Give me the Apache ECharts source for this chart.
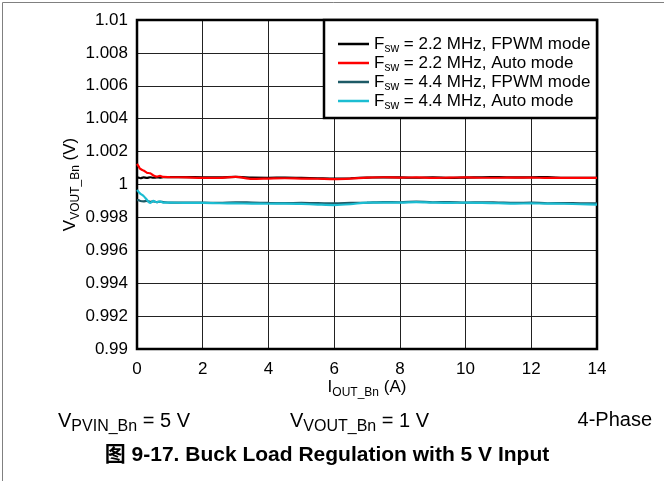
<!DOCTYPE html>
<html>
<head>
<meta charset="utf-8">
<script src="https://cdn.jsdelivr.net/npm/echarts@6/dist/echarts.min.js"></script>
<style>
html,body{margin:0;padding:0;background:#fff;}
#chart{width:664px;height:481px;}
</style>
</head>
<body>
<div id="chart"></div>
<script>
var currentA = [0,0.05,0.1,0.2,0.3,0.4,0.5,0.6,0.7,0.8,1,1.5,2,2.5,3,3.5,4,4.5,5,5.5,6,6.5,7,7.5,8,8.5,9,9.5,10,10.5,11,11.5,12,12.5,13,13.5,14];
var fsw22Fpwm = [1.00040,1.00042,1.00038,1.00043,1.00040,1.00044,1.00041,1.00043,1.00042,1.00044,1.00045,1.00045,1.00044,1.00043,1.00046,1.00042,1.00041,1.00042,1.00040,1.00038,1.00036,1.00038,1.00042,1.00044,1.00043,1.00041,1.00044,1.00040,1.00042,1.00044,1.00045,1.00043,1.00044,1.00045,1.00040,1.00040,1.00040];
var fsw22Auto = [1.00125,1.00110,1.00095,1.00085,1.00072,1.00068,1.00055,1.00048,1.00052,1.00046,1.00045,1.00043,1.00040,1.00040,1.00046,1.00034,1.00036,1.00038,1.00036,1.00035,1.00033,1.00036,1.00042,1.00044,1.00042,1.00043,1.00040,1.00042,1.00043,1.00041,1.00041,1.00042,1.00042,1.00040,1.00040,1.00040,1.00040];
var fsw44Fpwm = [0.99905,0.99905,0.99900,0.99898,0.99900,0.99895,0.99897,0.99893,0.99895,0.99893,0.99890,0.99890,0.99890,0.99888,0.99892,0.99890,0.99888,0.99887,0.99888,0.99887,0.99885,0.99888,0.99890,0.99893,0.99892,0.99896,0.99892,0.99893,0.99890,0.99892,0.99890,0.99888,0.99890,0.99886,0.99887,0.99886,0.99886];
var fsw44Auto = [0.99966,0.99955,0.99945,0.99930,0.99908,0.99888,0.99900,0.99892,0.99898,0.99890,0.99890,0.99888,0.99888,0.99886,0.99885,0.99884,0.99883,0.99884,0.99882,0.99878,0.99875,0.99880,0.99890,0.99890,0.99890,0.99893,0.99890,0.99888,0.99890,0.99888,0.99886,0.99884,0.99885,0.99884,0.99883,0.99880,0.99878];
var seriesNames = ['2.2 MHz, FPWM mode','2.2 MHz, Auto mode','4.4 MHz, FPWM mode','4.4 MHz, Auto mode'];
var seriesColors = ['#000000','#ff0000','#1d5a66','#1cbdd2'];
var yTickLabels = ['0.99','0.992','0.994','0.996','0.998','1','1.002','1.004','1.006','1.008','1.01'];
var xTickLabels = ['0','2','4','6','8','10','12','14'];

function pairs(ys){ return currentA.map(function(x,i){ return [x, ys[i]]; }); }
var allY = [fsw22Fpwm, fsw22Auto, fsw44Fpwm, fsw44Auto];
var FONT = 'Liberation Sans, Arial, sans-serif';
function subRich(main, sub, lh, pad, fillKey){
  var n = {fontSize:main,fontFamily:FONT,lineHeight:lh};
  var s = {fontSize:sub,fontFamily:FONT,lineHeight:lh,padding:[pad,0,0,0]};
  n[fillKey]='#000'; s[fillKey]='#000';
  return {n:n,s:s};
}

var chart = echarts.init(document.getElementById('chart'), null, {renderer:'canvas'});
var option = {
  animation:false,
  backgroundColor:'#fff',
  grid:{left:137,right:67,top:20,bottom:132,show:true,borderColor:'#000',borderWidth:2.5,z:3},
  xAxis:{
    type:'value',min:0,max:14,interval:2,
    axisLine:{show:false},axisTick:{show:false},
    splitLine:{show:true,lineStyle:{color:'#222',width:1}},
    axisLabel:{margin:12,color:'#000',fontSize:17,fontFamily:FONT,
      formatter:function(v){ return xTickLabels[Math.round(v/2)]; }},
    name:'{n|I}{s|OUT_Bn}{n| (A)}',nameLocation:'middle',nameGap:29,nameMoveOverlap:false,
    nameTextStyle:{color:'#000',fontFamily:FONT,rich:subRich(17,12,19,10,'color')}
  },
  yAxis:{
    type:'value',min:0.99,max:1.01,interval:0.002,
    axisLine:{show:false},axisTick:{show:false},
    splitLine:{show:true,lineStyle:{color:'#222',width:1}},
    axisLabel:{margin:9,color:'#000',fontSize:17,fontFamily:FONT,
      formatter:function(v){ return yTickLabels[Math.round((v-0.99)/0.002)]; }},
    name:'{n|V}{s|VOUT_Bn}{n| (V)}',nameLocation:'middle',nameGap:57,nameMoveOverlap:false,
    nameTextStyle:{color:'#000',fontFamily:FONT,rich:subRich(17,12,19,10,'color')}
  },
  legend:{
    left:333,top:28,orient:'vertical',itemGap:-3,itemWidth:31,itemHeight:2.5,icon:'rect',
    z:10,
    data:seriesNames,
    formatter:function(name){ return '{n|F}{s|sw}{n| = '+name+'}'; },
    textStyle:{color:'#000',fontFamily:FONT,fontSize:17,rich:subRich(17,12,18.7,10,'color')}
  },
  graphic:[
    {type:'rect',left:0,top:0,shape:{x:0.5,y:0.5,width:700,height:600},style:{fill:'none',stroke:'#808080',lineWidth:1},z:0,silent:true},
    {type:'rect',shape:{x:324,y:20,width:273,height:98},style:{fill:'#fff',stroke:'#000',lineWidth:2.5},z:9,silent:true},
    {type:'text',x:58,y:421,style:{text:'{n|V}{s|PVIN_Bn}{n| = 5 V}',verticalAlign:'middle',rich:subRich(20,16,22,11,'fill')},z:10},
    {type:'text',x:290,y:421,style:{text:'{n|V}{s|VOUT_Bn}{n| = 1 V}',verticalAlign:'middle',rich:subRich(20,16,22,11,'fill')},z:10},
    {type:'text',x:652,y:420,style:{text:'4-Phase',align:'right',verticalAlign:'middle',fontSize:20,fontFamily:FONT,fill:'#000'},z:10},
    {type:'text',x:327,y:455,style:{text:'图 9-17. Buck Load Regulation with 5 V Input',align:'center',verticalAlign:'middle',fontSize:21,fontWeight:'bold',fontFamily:'Liberation Sans, Noto Sans CJK SC, sans-serif',fill:'#000'},z:10}
  ],
  series: seriesNames.map(function(n,i){
    return {name:n,type:'line',data:pairs(allY[i]),symbol:'none',smooth:0.3,
      lineStyle:{color:seriesColors[i],width:2.2},itemStyle:{color:seriesColors[i]},z:4};
  })
};
chart.setOption(option);
</script>
</body>
</html>
